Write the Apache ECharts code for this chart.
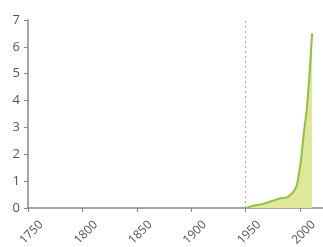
<!DOCTYPE html>
<html>
<head>
<meta charset="utf-8">
<script src="https://cdn.jsdelivr.net/npm/echarts@6/dist/echarts.min.js"></script>
<style>
  html, body { margin: 0; padding: 0; background: #fff; }
  #chart { width: 323px; height: 247px; }
</style>
</head>
<body>
<div id="chart"></div>
<script>
const years = [1950, 1952, 1955, 1958, 1960, 1965, 1968, 1970, 1972, 1975, 1978, 1980, 1982, 1984, 1986, 1988,
  1990, 1992, 1994, 1995, 1996, 1997, 1998, 1999, 2000, 2001, 2002, 2003, 2004, 2005, 2006, 2007, 2008, 2009, 2010, 2011];
const values = [0, 0.02, 0.06, 0.09, 0.11, 0.14, 0.18, 0.2, 0.23, 0.27, 0.31, 0.34, 0.36, 0.37, 0.38, 0.4,
  0.46, 0.52, 0.61, 0.66, 0.75, 0.86, 1.05, 1.3, 1.55, 1.85, 2.25, 2.65, 3.0, 3.3, 3.65, 4.1, 4.65, 5.2, 5.85, 6.5];
const markYear = 1950;

const myChart = echarts.init(document.getElementById('chart'));
myChart.setOption({
    animation: false,
    grid: { left: 28, right: 0, top: 20, bottom: 39, containLabel: false, outerBoundsMode: 'none' },
    xAxis: {
        type: 'value',
        min: 1750,
        max: 2021,
        interval: 50,
        splitLine: { show: false },
        axisLine: { lineStyle: { color: '#888', width: 1.5 } },
        axisTick: { length: 4, lineStyle: { color: '#888' } },
        axisLabel: {
            rotate: 45,
            align: 'center',
            verticalAlign: 'middle',
            margin: 28,
            padding: [0, 0, 0, 10],
            fontFamily: 'Open Sans',
            fontSize: 12,
            color: '#555',
            showMaxLabel: false,
            formatter: v => String(v)
        }
    },
    yAxis: {
        type: 'value',
        min: 0,
        max: 7,
        interval: 1,
        splitLine: { show: false },
        axisLine: { show: true, lineStyle: { color: '#888', width: 1.5 } },
        axisTick: { show: true, length: 4, lineStyle: { color: '#888' } },
        axisLabel: {
            margin: 8,
            fontFamily: 'Open Sans',
            fontSize: 13,
            color: '#555'
        }
    },
    series: [{
        type: 'line',
        data: years.map((y, i) => [y, values[i]]),
        symbol: 'none',
        lineStyle: { color: '#8cc43c', width: 2 },
        areaStyle: { color: '#e0e69a', opacity: 1 },
        markLine: {
            silent: true,
            symbol: 'none',
            label: { show: false },
            lineStyle: { color: '#aaa', type: [2, 3], width: 1 },
            data: [{ xAxis: markYear }]
        }
    }]
});
</script>
</body>
</html>
